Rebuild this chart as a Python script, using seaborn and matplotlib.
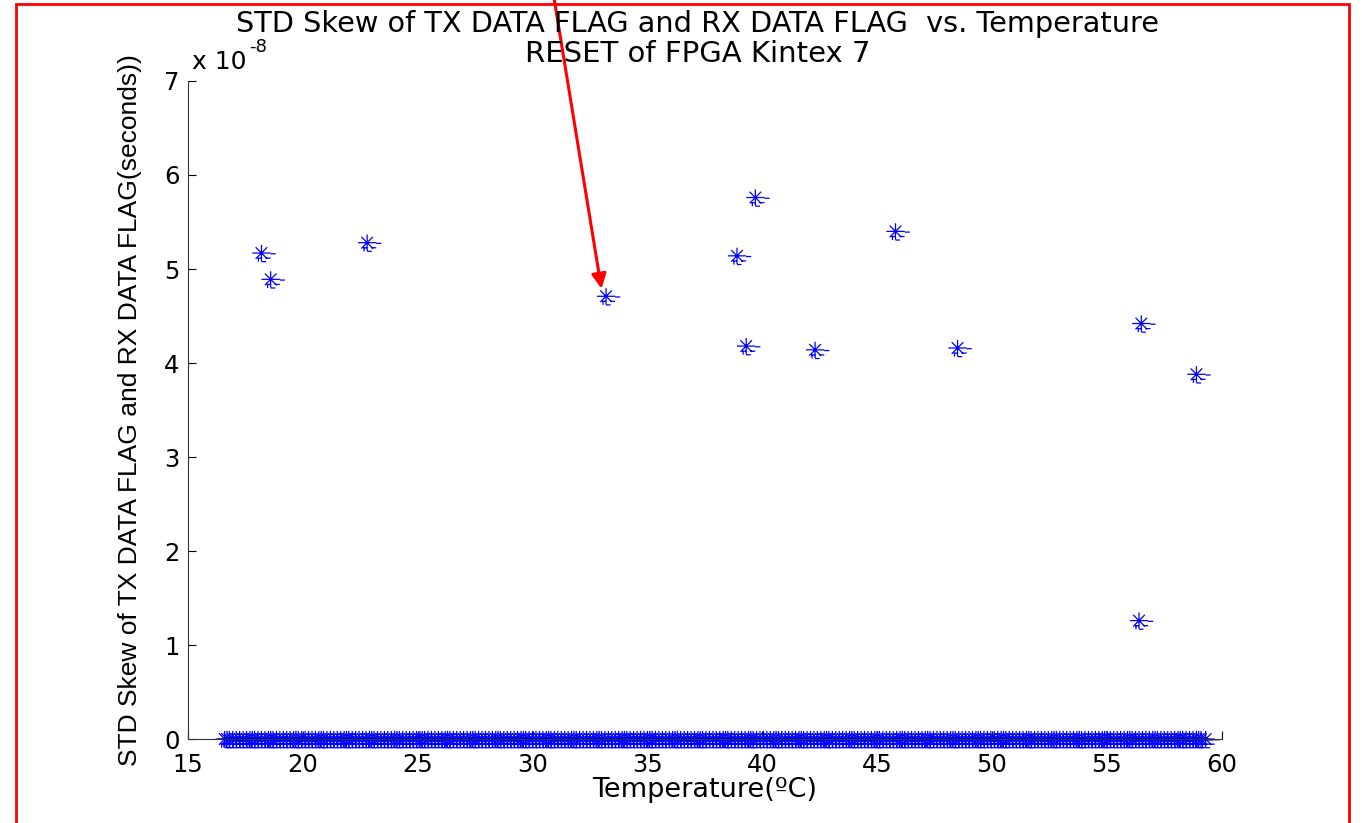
import numpy as np
import pandas as pd
import matplotlib
matplotlib.use("Agg")
import matplotlib.pyplot as plt
import seaborn as sns
from matplotlib.path import Path
from matplotlib.patches import Rectangle

# ---- data (temperature in degC, skew in seconds) ----
temp_high = [18.2, 18.6, 22.8, 33.2, 38.9, 39.7, 39.3, 42.3, 45.8, 48.5, 56.5, 56.4, 58.9]
skew_high = [5.17e-8, 4.89e-8, 5.28e-8, 4.71e-8, 5.14e-8, 5.76e-8, 4.18e-8, 4.14e-8,
             5.40e-8, 4.16e-8, 4.42e-8, 1.26e-8, 3.88e-8]

# runs where skew was (near) zero
temp_zero_a = [16.6, 16.8, 17.1, 17.4, 17.7, 17.9, 18.2, 18.5, 18.7, 19.0, 19.3,
               19.6, 19.8, 20.1, 20.4, 20.7, 20.9, 21.2, 21.5, 21.8, 22.0, 22.3, 22.6,
               22.9, 23.1, 23.4, 23.7, 24.0, 24.2, 24.5, 24.8, 25.1, 25.3, 25.6, 25.9,
               26.2, 26.4, 26.7, 27.0, 27.3, 27.5, 27.8, 28.1, 28.4, 28.6, 28.9, 29.2,
               29.5, 29.7, 30.0, 30.3, 30.6, 30.8, 31.1, 31.4, 31.7, 31.9, 32.2, 32.5,
               32.8, 33.0, 33.3, 33.6, 33.9, 34.1, 34.4, 34.7, 35.0, 35.2, 35.5, 35.8,
               36.1, 36.3, 36.6, 36.9, 37.2, 37.4, 37.7, 38.0, 38.3, 38.5, 38.8, 39.1,
               39.4, 39.6, 39.9, 40.2, 40.5, 40.7, 41.0, 41.3, 41.6, 41.8, 42.1, 42.4,
               42.7, 42.9, 43.2, 43.5, 43.8, 44.0, 44.3, 44.6, 44.9, 45.1, 45.4, 45.7,
               46.0, 46.2, 46.5, 46.8, 47.1, 47.3, 47.6, 47.9, 48.2, 48.4, 48.7, 49.0,
               49.3, 49.5, 49.8, 50.1, 50.4, 50.6, 50.9, 51.2, 51.5, 51.7, 52.0, 52.3,
               52.6, 52.8, 53.1, 53.4, 53.7, 53.9, 54.2, 54.5, 54.8, 55.0, 55.3, 55.6,
               55.9, 56.1, 56.4, 56.7, 57.0, 57.2, 57.5, 57.8, 58.1, 58.3, 58.6, 58.9,
               59.1]
temp_zero_b = [16.7, 16.95, 17.25, 17.55, 17.8, 18.05, 18.35, 18.6, 18.85, 19.15, 19.45,
               19.7, 19.95, 20.25, 20.55, 20.8, 21.05, 21.35, 21.65, 21.9, 22.15, 22.45,
               22.75, 23.0, 23.25, 23.55, 23.85, 24.1, 24.35, 24.65, 24.95, 25.2, 25.45,
               25.75, 26.05, 26.3, 26.55, 26.85, 27.15, 27.4, 27.65, 27.95, 28.25, 28.5,
               28.75, 29.05, 29.35, 29.6, 29.85, 30.15, 30.45, 30.7, 30.95, 31.25, 31.55,
               31.8, 32.05, 32.35, 32.65, 32.9, 33.15, 33.45, 33.75, 34.0, 34.25, 34.55,
               34.85, 35.1, 35.35, 35.65, 35.95, 36.2, 36.45, 36.75, 37.05, 37.3, 37.55,
               37.85, 38.15, 38.4, 38.65, 38.95, 39.25, 39.5, 39.75, 40.05, 40.35, 40.6,
               40.85, 41.15, 41.45, 41.7, 41.95, 42.25, 42.55, 42.8, 43.05, 43.35, 43.65,
               43.9, 44.15, 44.45, 44.75, 45.0, 45.25, 45.55, 45.85, 46.1, 46.35, 46.65,
               46.95, 47.2, 47.45, 47.75, 48.05, 48.3, 48.55, 48.85, 49.15, 49.4, 49.65,
               49.95, 50.25, 50.5, 50.75, 51.05, 51.35, 51.6, 51.85, 52.15, 52.45, 52.7,
               52.95, 53.25, 53.55, 53.8, 54.05, 54.35, 54.65, 54.9, 55.15, 55.45, 55.75,
               56.0, 56.25, 56.55, 56.85, 57.1, 57.35, 57.65, 57.95, 58.2, 58.45, 58.75,
               59.0, 59.3]
temp_zero = temp_zero_a + temp_zero_b
skew_zero = [0.0] * len(temp_zero)

title_lines = ["STD Skew of TX DATA FLAG and RX DATA FLAG  vs. Temperature",
               "RESET of FPGA Kintex 7"]
x_label = "Temperature(ºC)"
y_label = "STD Skew of TX DATA FLAG and RX DATA FLAG(seconds))"
x_ticks = [15, 20, 25, 30, 35, 40, 45, 50, 55, 60]
y_ticks = [0, 1e-8, 2e-8, 3e-8, 4e-8, 5e-8, 6e-8, 7e-8]
y_tick_labels = ["0", "1", "2", "3", "4", "5", "6", "7"]

df = pd.DataFrame({"temp": temp_zero + temp_high, "skew": skew_zero + skew_high})

sns.set_style("white")
plt.rcParams["font.family"] = ["DejaVu Sans"]
plt.rcParams["text.color"] = "black"
plt.rcParams["axes.labelcolor"] = "black"
WIDE = ["DejaVu Sans"]
NARROW = ["Liberation Sans", "DejaVu Sans"]

fig = plt.figure(figsize=(13.62, 8.23), dpi=100)
ax = fig.add_axes([0.138, 0.102, 0.759, 0.7996])

# MATLAB-like '*' marker with rendering dashes
d = 5.7
verts = [(-9, 0), (9, 0), (0, -8), (0, 8), (-d, -d), (d, d), (-d, d), (d, -d),
         (9, -0.7), (14, -0.7), (-4, -5), (0, -5), (4, -5), (9, -5),
         (-3, -5), (-3, -8.5), (0, -8.5), (4.5, -8.5)]
codes = [Path.MOVETO, Path.LINETO] * (len(verts) // 2)
star_path = Path(verts, codes)

sns.scatterplot(data=df, x="temp", y="skew", marker=star_path, s=420,
                color="#0000ff", linewidth=0.9, ax=ax, legend=False, clip_on=False)
for coll in ax.collections:
    coll.set_facecolor("none")
    coll.set_edgecolor("#0000ff")
    coll.set_linewidth(0.9)
    coll.set_clip_on(False)

ax.set_xlim(15, 60)
ax.set_ylim(0, 7e-8)
ax.set_xticks(x_ticks)
ax.set_xticklabels([str(t) for t in x_ticks], fontsize=17.5, family=WIDE)
ax.set_yticks(y_ticks)
ax.set_yticklabels(y_tick_labels, fontsize=17.5, family=WIDE)
ax.tick_params(direction="in", length=6, width=0.8, colors="black",
               bottom=True, left=True, top=False, right=False)
ax.tick_params(axis="x", pad=10)
ax.tick_params(axis="y", pad=6)
for side in ["top", "right"]:
    ax.spines[side].set_visible(False)
for side in ["left", "bottom"]:
    ax.spines[side].set_color("#333333")
    ax.spines[side].set_linewidth(0.8)

ax.set_xlabel(x_label, fontsize=19.5, family=WIDE, labelpad=0, color="black")
ax.set_ylabel(y_label, fontsize=19, family=NARROW, labelpad=16, color="black")
fig.text(0.141, 0.91, "x 10", fontsize=18, family=WIDE, ha="left", va="bottom")
fig.text(0.183, 0.932, "-8", fontsize=13, family=WIDE, ha="left", va="bottom")

fig.text(0.512, 0.971, title_lines[0], fontsize=20.7, family=WIDE, ha="center", va="center")
fig.text(0.512, 0.934, title_lines[1], fontsize=21, family=WIDE, ha="center", va="center")

# red annotation arrow pointing at the 33 degC point
ax.annotate("", xy=(33.0, 4.79e-8), xytext=(0.406, 1.01), textcoords="figure fraction",
            arrowprops=dict(arrowstyle="-|>", color="red", lw=2.2, mutation_scale=22,
                            shrinkA=0, shrinkB=0))

# red frame
fig.patches.append(Rectangle((0.0115, -0.02), 0.979, 1.015, transform=fig.transFigure,
                             fill=False, edgecolor="red", linewidth=2, zorder=10))

fig.savefig("out.png", dpi=100)
